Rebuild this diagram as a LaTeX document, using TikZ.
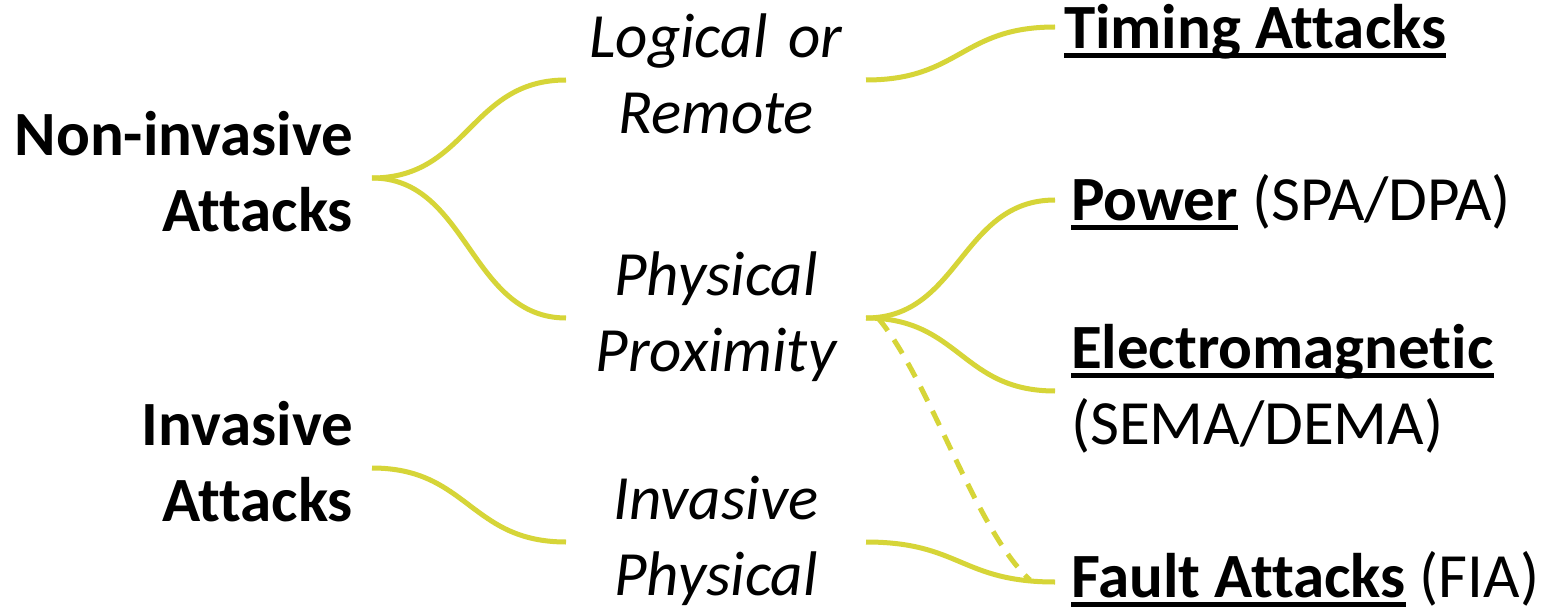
\documentclass[tikz,border=0pt]{standalone}
\usepackage{fontspec}
\setmainfont{Carlito}[Ligatures=NoCommon]
\definecolor{lineyel}{RGB}{214,213,56}
\newcommand\ulbar[1]{\setbox0\hbox{#1}\rlap{\vrule height -5pt depth 10pt width \wd0}\box0}
\begin{document}
\begin{tikzpicture}[x=1pt,y=-1pt,
  leftlbl/.style={inner sep=0pt, align=right, anchor=east, outer xsep=19pt, outer ysep=0pt, font=\fontsize{63}{76}\selectfont\bfseries},
  midlbl/.style={inner sep=0pt, text width=270pt, align=center, anchor=center, outer xsep=15pt, outer ysep=0pt, font=\fontsize{63}{76}\selectfont\itshape},
  rightlbl/.style={inner sep=0pt, align=left, anchor=west, outer xsep=9pt, outer ysep=0pt, font=\fontsize{63}{76}\selectfont},
  conn/.style={draw=lineyel, line width=5pt},
  dashconn/.style={draw=lineyel, line width=5pt, dash pattern=on 16pt off 11pt}]
\fill[white] (0,0) rectangle (1562,612);
\useasboundingbox (0,0) rectangle (1562,612);
% left
\node[leftlbl] (ni) at (372,178) {Non-invasive\strut\\Attacks\strut};
\node[leftlbl] (ia) at (372,468) {Invasive\strut\\Attacks\strut};
% middle
\node[midlbl] (lr) at (716,80) {Logical or\strut\\Remote\strut};
\node[midlbl] (pp) at (716,318) {Physical\strut\\Proximity\strut};
\node[midlbl] (ip) at (716,542) {Invasive\strut\\Physical\strut};
% right
\node[rightlbl] (ta) at (1055,33) {\bfseries\ulbar{Timing Attacks}\strut};
\node[rightlbl] (pw) at (1062,205) {\bfseries\ulbar{Power}\mdseries{} (SPA/DPA)\strut};
\node[rightlbl] (em) at (1062,391) {\bfseries\ulbar{Electromagnetic}\strut\\(SEMA/DEMA)\strut};
\node[rightlbl] (fa) at (1062,582) {\bfseries\ulbar{Fault Attacks}\mdseries{} (FIA)\strut};
\coordinate (fend) at (1030,580);
% connectors
\draw[conn] (ni.east) .. controls +(96,0) and +(-96,0) .. (lr.west);
\draw[conn] (ni.east) .. controls +(96,0) and +(-96,0) .. (pp.west);
\draw[conn] (ia.east) .. controls +(96,0) and +(-96,0) .. (ip.west);
\draw[conn] (lr.east) .. controls +(94,0) and +(-94,0) .. ([yshift=6pt]ta.west);
\draw[conn] (pp.east) .. controls +(94,0) and +(-94,0) .. ([yshift=5pt,xshift=-7pt]pw.west);
\draw[conn] (pp.east) .. controls +(94,0) and +(-94,0) .. ([xshift=-7pt]em.west);
\draw[conn] (ip.east) .. controls +(94,0) and +(-94,0) .. ([xshift=-7pt]fa.west);
\draw[dashconn] ([xshift=12pt]pp.east) .. controls (930,380) and (975,530) .. (fend);
\end{tikzpicture}
\end{document}
